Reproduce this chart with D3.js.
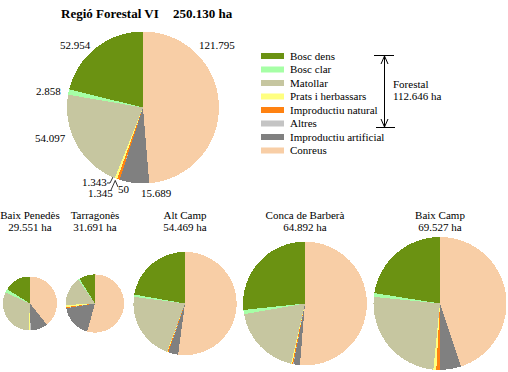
<!DOCTYPE html>
<html>
<head>
<meta charset="utf-8">
<script src="https://cdn.jsdelivr.net/npm/d3@7"></script>
<style>
  body { margin: 0; background: #fff; }
  text { font-family: 'Liberation Serif', 'DejaVu Serif', serif; }
</style>
</head>
<body>
<svg id="canvas"></svg>
<script>
let width = 508;
let height = 372;

// categories, in legend order
let categories = ['Bosc dens', 'Bosc clar', 'Matollar', 'Prats i herbassars',
  'Improductiu natural', 'Altres', 'Improductiu artificial', 'Conreus'];
let colors = ['#6b9212', '#a6ffa6', '#c6c6a0', '#ffff80', '#ff8211', '#c4c4c4', '#808080', '#f8cea6'];

// Regió Forestal VI (ha)
let regionValues = [52954, 2858, 54097, 1343, 1345, 50, 15689, 121795];
let regionLabels = ['52.954', '2.858', '54.097', '1.343', '1.345', '50', '15.689', '121.795'];

// comarques
let comarques = ['Baix Penedès', 'Tarragonès', 'Alt Camp', 'Conca de Barberà', 'Baix Camp'];
let comarcaTotals = ['29.551 ha', '31.691 ha', '54.469 ha', '64.892 ha', '69.527 ha'];
let baixPenedes = [4760, 660, 9110, 160, 160, 50, 3040, 11610];
let tarragones = [2820, 260, 5110, 350, 180, 40, 5720, 17210];
let altCamp = [12100, 400, 11650, 80, 150, 30, 1660, 28400];
let concaBarbera = [17300, 720, 12080, 180, 180, 50, 1080, 33300];
let baixCamp = [15640, 640, 17380, 480, 580, 30, 3550, 31220];
let comarcaValues = [baixPenedes, tarragones, altCamp, concaBarbera, baixCamp];

let svg = d3.select('#canvas')
  .attr('width', width)
  .attr('height', height)
  .attr('font-family', 'Liberation Serif, DejaVu Serif, serif');

let color = d3.scaleOrdinal().domain(categories).range(colors);

// pie goes clockwise from 12 o'clock, starting with Conreus
let pie = d3.pie()
  .sort(null)
  .value(d => d.value);

let toItems = (vals) => categories.map((c, i) => ({ cat: c, value: vals[i], i: i })).reverse();

let drawPie = (g, vals, r) => {
  let arc = d3.arc().innerRadius(0).outerRadius(r);
  g.selectAll('path')
    .data(pie(toItems(vals)))
    .enter()
    .append('path')
    .attr('d', arc)
    .attr('fill', d => color(d.data.cat))
    .attr('shape-rendering', 'crispEdges');
};

// title
let title = svg.append('text')
  .attr('x', 61)
  .attr('y', 18)
  .attr('font-size', 13)
  .attr('font-weight', 'bold');
title.append('tspan').text('Regió Forestal VI');
title.append('tspan').attr('x', 173).text('250.130 ha');

// main pie
let mainG = svg.append('g').attr('transform', 'translate(143,107.5)');
drawPie(mainG, regionValues, 76);

// value labels (legend order)
let labelPos = [[60, 49], [36, 95], [35, 142], [82, 186], [88, 197], [118, 193], [141, 197], [199, 49]];
svg.append('g')
  .selectAll('text')
  .data(regionLabels)
  .enter()
  .append('text')
  .attr('x', (d, i) => labelPos[i][0])
  .attr('y', (d, i) => labelPos[i][1])
  .attr('font-size', 11)
  .text(d => d);

// little leader lines for the tiny slices
let leaders = [
  [[107, 183], [110, 183], [113, 177]],
  [[111, 190], [115, 181]],
  [[118, 187], [115, 180]]
];
svg.append('g')
  .selectAll('path')
  .data(leaders)
  .enter()
  .append('path')
  .attr('d', d => d3.line()(d))
  .attr('fill', 'none')
  .attr('stroke', '#000')
  .attr('stroke-width', 0.8);

// legend
let legendY = d3.scaleLinear().domain([0, categories.length - 1]).range([56, 150.5]);
let legend = svg.append('g').attr('id', 'legend');
legend.selectAll('rect')
  .data(categories)
  .enter()
  .append('rect')
  .attr('x', 261)
  .attr('y', (d, i) => legendY(i) - 3)
  .attr('width', 23)
  .attr('height', 6)
  .attr('fill', d => color(d));
legend.selectAll('text')
  .data(categories)
  .enter()
  .append('text')
  .attr('x', 290)
  .attr('y', (d, i) => legendY(i) + 3.5)
  .attr('font-size', 11)
  .text(d => d);

// Forestal bracket
let br = svg.append('g').attr('stroke', '#000').attr('stroke-width', 1).attr('fill', 'none');
br.append('line').attr('x1', 374).attr('x2', 394).attr('y1', 55.5).attr('y2', 55.5);
br.append('line').attr('x1', 376).attr('x2', 395).attr('y1', 127.5).attr('y2', 127.5);
br.append('line').attr('x1', 384.5).attr('x2', 384.5).attr('y1', 56).attr('y2', 127);
br.append('path').attr('d', 'M381,64L384.5,56L388,64');
br.append('path').attr('d', 'M381,119L384.5,127L388,119');
svg.append('text').attr('x', 393).attr('y', 88).attr('font-size', 11).text('Forestal');
svg.append('text').attr('x', 393).attr('y', 99.5).attr('font-size', 11).text('112.646 ha');

// comarca pies
let comarcaX = [30, 95, 185, 305, 440];
let totalNum = comarcaValues.map(v => d3.sum(v));
let rScale = d3.scaleLinear()
  .domain([d3.min(totalNum), d3.max(totalNum)])
  .range([27, 66.5]);

comarques.forEach((name, k) => {
  let g = svg.append('g').attr('transform', `translate(${comarcaX[k]},303.5)`);
  drawPie(g, comarcaValues[k], rScale(totalNum[k]));
  let t = svg.append('text')
    .attr('text-anchor', 'middle')
    .attr('font-size', 11);
  t.append('tspan').attr('x', comarcaX[k]).attr('y', 219).text(name);
  t.append('tspan').attr('x', comarcaX[k]).attr('y', 231).text(comarcaTotals[k]);
});
</script>
</body>
</html>
